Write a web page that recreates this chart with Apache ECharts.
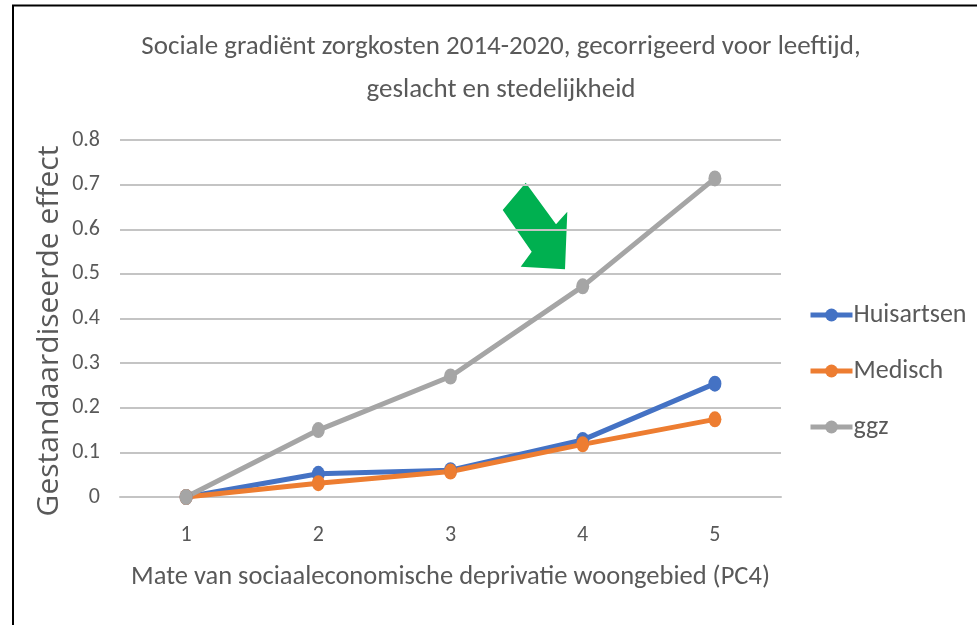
<!DOCTYPE html>
<html>
<head>
<meta charset="utf-8">
<script src="https://cdn.jsdelivr.net/npm/echarts@6/dist/echarts.min.js"></script>
<style>
  html, body { margin: 0; padding: 0; background: #fff; }
  #chart { width: 977px; height: 625px; }
</style>
</head>
<body>
<div id="chart"></div>
<script>
const categories = ['1', '2', '3', '4', '5']
const huisartsen = [0, 0.052, 0.06, 0.128, 0.254]
const medisch = [0, 0.031, 0.057, 0.118, 0.174]
const ggz = [0, 0.15, 0.27, 0.472, 0.714]
const yTicks = [0, 0.1, 0.2, 0.3, 0.4, 0.5, 0.6, 0.7, 0.8]

const FONT = 'Carlito, "Liberation Sans Narrow", "Open Sans", sans-serif'
const TEXT = '#595959'

const chart = echarts.init(document.getElementById('chart'))

function makeSeries(name, data, color) {
  return {
    name: name,
    type: 'line',
    data: data,
    symbol: 'circle',
    symbolSize: [13, 16],
    lineStyle: { color: color, width: 5 },
    itemStyle: { color: color },
    emphasis: { disabled: true }
  }
}

const option = {
  backgroundColor: '#fff',
  animation: false,
  title: {
    text: 'Sociale gradiënt zorgkosten 2014-2020, gecorrigeerd voor leeftijd,\ngeslacht en stedelijkheid',
    left: 501,
    top: 26,
    padding: 0,
    textAlign: 'center',
    textStyle: {
      fontFamily: FONT,
      fontSize: 27,
      fontWeight: 'normal',
      color: TEXT,
      lineHeight: 43
    }
  },
  legend: {
    orient: 'vertical',
    left: 808,
    top: 302,
    padding: 0,
    itemGap: 30,
    itemWidth: 42,
    itemHeight: 16,
    data: ['Huisartsen', 'Medisch', 'ggz'],
    lineStyle: { width: 5 },
    textStyle: { fontFamily: FONT, fontSize: 26, color: TEXT, padding: [0, 0, 0, -4] }
  },
  grid: { left: 120, right: 196, top: 140, bottom: 128 },
  xAxis: {
    type: 'category',
    data: categories,
    boundaryGap: true,
    name: 'Mate van sociaaleconomische deprivatie woongebied (PC4)',
    nameLocation: 'middle',
    nameGap: 67,
    nameTextStyle: { fontFamily: FONT, fontSize: 26.5, color: TEXT },
    axisLine: { show: true, lineStyle: { color: '#c4c4c4', width: 2 } },
    axisTick: { show: false },
    axisLabel: { fontFamily: FONT, fontSize: 22, color: TEXT, margin: 27 }
  },
  yAxis: {
    type: 'value',
    min: 0,
    max: 0.8,
    interval: 0.1,
    axisLine: { show: false },
    axisTick: { show: false },
    axisLabel: {
      fontFamily: FONT,
      fontSize: 22,
      color: TEXT,
      margin: 20,
      formatter: v => String(yTicks.find(t => Math.abs(t - v) < 1e-9) ?? v)
    },
    splitLine: { lineStyle: { color: '#c4c4c4', width: 2 } }
  },
  series: [
    makeSeries('Huisartsen', huisartsen, '#4472C4'),
    makeSeries('Medisch', medisch, '#ED7D31'),
    makeSeries('ggz', ggz, '#A5A5A5')
  ],
  graphic: [
    // kader links en boven
    { type: 'line', shape: { x1: 13, y1: 5, x2: 13, y2: 625 }, style: { stroke: '#000', lineWidth: 2 } },
    { type: 'line', shape: { x1: 12, y1: 5.5, x2: 977, y2: 5.5 }, style: { stroke: '#000', lineWidth: 2 } },
    // y-as titel
    {
      type: 'text',
      x: 49,
      y: 331,
      rotation: Math.PI / 2,
      style: {
        text: 'Gestandaardiseerde effect',
        fontFamily: '"Open Sans", sans-serif',
        fontSize: 30,
        fill: TEXT,
        align: 'center',
        verticalAlign: 'middle'
      }
    },
    // groene pijl
    {
      type: 'polygon',
      shape: {
        points: [[525.7, 182.7], [502.7, 210], [531.7, 251.7], [520.7, 266.7], [565, 269.3], [567.3, 211.7], [556, 224.3]]
      },
      style: { fill: '#00B050' }
    }
  ]
}

chart.setOption(option)
</script>
</body>
</html>
